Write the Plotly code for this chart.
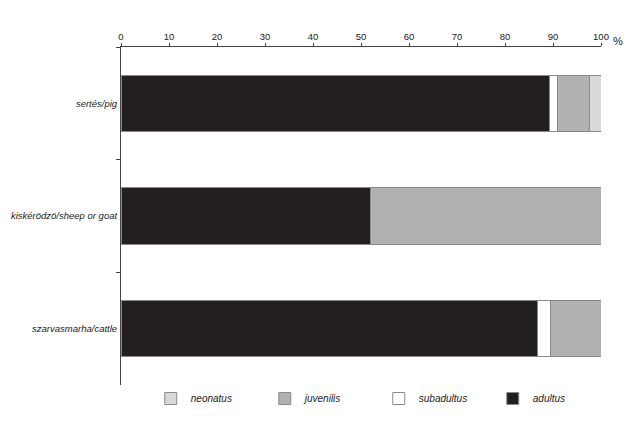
import plotly.graph_objects as go

animals = ["sertés/pig", "kiskérödzö/sheep or goat", "szarvasmarha/cattle"]
adultus = [89.2, 52.0, 86.7]
subadultus = [1.7, 0.0, 2.7]
juvenilis = [6.7, 48.0, 10.6]
neonatus = [2.4, 0.0, 0.0]
x_ticks = [0, 10, 20, 30, 40, 50, 60, 70, 80, 90, 100]

series = [
    ("adultus", adultus, "#231f20"),
    ("subadultus", subadultus, "#ffffff"),
    ("juvenilis", juvenilis, "#b1b1b1"),
    ("neonatus", neonatus, "#d9d9d9"),
]

fig = go.Figure()
for name, vals, color in series:
    fig.add_trace(go.Bar(
        y=animals,
        x=vals,
        name=name,
        orientation="h",
        width=0.5,
        marker=dict(color=color, line=dict(color="#8a8a8a", width=1)),
    ))

# the page body adds an 8px margin, so the figure margins are reduced by that
fig.update_layout(
    barmode="stack",
    width=637,
    height=428,
    plot_bgcolor="white",
    paper_bgcolor="white",
    margin=dict(l=113, r=44, t=39, b=51),
    font=dict(family="Liberation Sans, Arial, sans-serif", size=10, color="#222"),
    legend=dict(
        orientation="h",
        traceorder="reversed",
        x=0.062, xanchor="left",
        y=-0.04, yanchor="middle",
        entrywidth=69,
        font=dict(size=10, style="italic"),
        itemwidth=30,
    ),
    xaxis=dict(
        side="top",
        range=[0, 100],
        tickvals=x_ticks,
        ticks="outside",
        ticklen=3,
        tickcolor="#444",
        tickfont=dict(size=9.5),
        ticklabelstandoff=-1,
        showline=True,
        linecolor="#444",
        linewidth=1,
        showgrid=False,
        zeroline=False,
        automargin=False,
    ),
    yaxis=dict(
        categoryorder="array",
        categoryarray=animals,
        autorange="reversed",
        ticks="outside",
        tickson="boundaries",
        ticklen=4,
        tickcolor="#444",
        showline=True,
        linecolor="#444",
        linewidth=1,
        showgrid=False,
        automargin=False,
        tickfont=dict(size=9.5, style="italic"),
        ticklabelstandoff=1,
    ),
)

fig.add_annotation(
    text="%", xref="paper", yref="paper", x=1.035, y=0.995,
    xanchor="center", yanchor="bottom", showarrow=False,
    font=dict(size=11),
)

fig.write_html("out.html")
